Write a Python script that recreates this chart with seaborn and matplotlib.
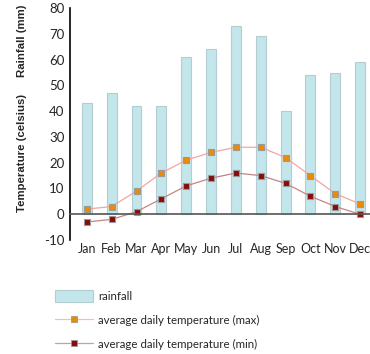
import numpy as np
import pandas as pd
import matplotlib
matplotlib.use("Agg")
import matplotlib.pyplot as plt
import seaborn as sns
from matplotlib.patches import Patch
from matplotlib.lines import Line2D

months = ['Jan', 'Feb', 'Mar', 'Apr', 'May', 'Jun', 'Jul', 'Aug', 'Sep', 'Oct', 'Nov', 'Dec']
rainfall = [43, 47, 42, 42, 61, 64, 73, 69, 40, 54, 55, 59]
temp_max = [2, 3, 9, 16, 21, 24, 26, 26, 22, 15, 8, 4]
temp_min = [-3, -2, 1, 6, 11, 14, 16, 15, 12, 7, 3, 0]

df = pd.DataFrame({'month': months, 'rain': rainfall, 'tmax': temp_max, 'tmin': temp_min})
df['pos'] = range(len(months))

sns.set_style("white")
plt.rcParams['font.family'] = ['Lato', 'DejaVu Sans']
plt.rcParams['axes.unicode_minus'] = False

bar_col = '#c2e6eb'
fig = plt.figure(figsize=(3.7, 3.54), dpi=100)
ax = fig.add_axes([0.189, 0.322, 0.811, 0.655])

sns.barplot(data=df, x='month', y='rain', color=bar_col, width=0.4,
            edgecolor='#b4cdd1', linewidth=0.8, saturation=1, ax=ax)
sns.lineplot(data=df, x='pos', y='tmax', color='#f4a4a4', lw=0.9, marker='s',
             markersize=5, markerfacecolor='#f08a00', markeredgecolor='#999999',
             markeredgewidth=0.8, ax=ax)
sns.lineplot(data=df, x='pos', y='tmin', color='#c48484', lw=0.9, marker='s',
             markersize=5, markerfacecolor='#8b0a0a', markeredgecolor='#999999',
             markeredgewidth=0.8, ax=ax)

ax.set_xlim(-0.68, 11.4)
ax.set_ylim(-10, 80)
ax.set_yticks(range(-10, 81, 10))
ax.set_xticks(range(12))
ax.set_xticklabels(months)
ax.set_xticks(np.arange(0.5, 11, 1), minor=True)
ax.set_xlabel('')
ax.set_ylabel('')

for s in ['top', 'right']:
    ax.spines[s].set_visible(False)
ax.spines['left'].set_color('black')
ax.spines['left'].set_linewidth(1.2)
ax.spines['bottom'].set_position(('data', 0))
ax.spines['bottom'].set_color('#555555')
ax.spines['bottom'].set_linewidth(1.2)

ax.tick_params(axis='y', direction='in', length=6, width=1.2, color='black',
               labelsize=9.5, pad=4)
ax.tick_params(axis='x', which='major', length=0, labelsize=9, pad=21)
ax.tick_params(axis='x', which='minor', direction='in', length=5, width=1.2,
               color='#333333')

fig.text(0.06, 0.885, 'Rainfall (mm)', rotation=90, ha='center', va='center',
         fontsize=8.2, fontweight='bold', family=['Liberation Sans'])
fig.text(0.06, 0.567, 'Temperature (celsius)', rotation=90, ha='center', va='center',
         fontsize=8.2, fontweight='bold', family=['Liberation Sans'])

handles = [
    Patch(facecolor=bar_col, edgecolor='#b4cdd1', linewidth=0.8),
    Line2D([0], [0], color='#f8c0a0', lw=0.9, marker='s', markersize=4,
           markerfacecolor='#f08a00', markeredgecolor='#999999', markeredgewidth=0.6),
    Line2D([0], [0], color='#c8a0a0', lw=0.9, marker='s', markersize=4,
           markerfacecolor='#8b0a0a', markeredgecolor='#999999', markeredgewidth=0.6),
]
labels = ['rainfall', 'average daily temperature (max)', 'average daily temperature (min)']
fig.legend(handles, labels, loc='upper left', bbox_to_anchor=(0.135, 0.195),
           frameon=False, fontsize=8.3, handlelength=3.3, handleheight=1.3,
           labelspacing=1.0, handletextpad=0.45, borderaxespad=0)

fig.savefig('out.png', dpi=100)
